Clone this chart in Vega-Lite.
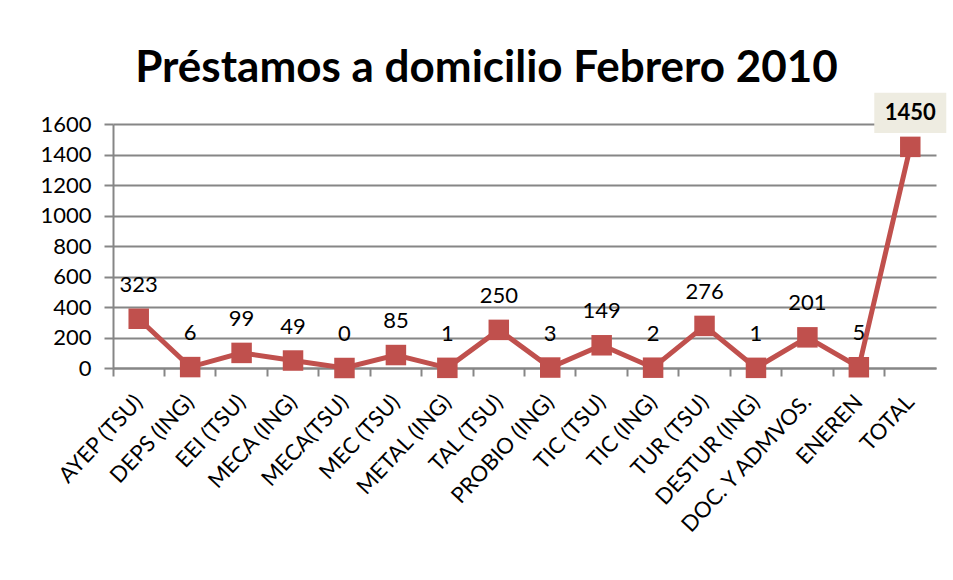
{
  "$schema": "https://vega.github.io/schema/vega-lite/v6.json",
  "autosize": {"type": "none"},
  "width": 823,
  "height": 244,
  "padding": {"left": 113, "top": 124, "right": 17, "bottom": 212},
  "background": "white",
  "title": {
    "text": "Préstamos a domicilio Febrero 2010",
    "font": "Lato",
    "fontSize": 44,
    "fontWeight": "bold",
    "color": "#000000",
    "anchor": "middle",
    "dx": -38,
    "offset": 2
  },
  "data": {
    "values": [
      {"carrera": "AYEP (TSU)", "prestamos": 323},
      {"carrera": "DEPS (ING)", "prestamos": 6},
      {"carrera": "EEI (TSU)", "prestamos": 99},
      {"carrera": "MECA (ING)", "prestamos": 49},
      {"carrera": "MECA(TSU)", "prestamos": 0},
      {"carrera": "MEC (TSU)", "prestamos": 85},
      {"carrera": "METAL (ING)", "prestamos": 1},
      {"carrera": "TAL (TSU)", "prestamos": 250},
      {"carrera": "PROBIO (ING)", "prestamos": 3},
      {"carrera": "TIC (TSU)", "prestamos": 149},
      {"carrera": "TIC (ING)", "prestamos": 2},
      {"carrera": "TUR (TSU)", "prestamos": 276},
      {"carrera": "DESTUR (ING)", "prestamos": 1},
      {"carrera": "DOC. Y ADMVOS.", "prestamos": 201},
      {"carrera": "ENEREN", "prestamos": 5},
      {"carrera": "TOTAL", "prestamos": 1450}
    ]
  },
  "encoding": {
    "x": {
      "field": "carrera",
      "type": "nominal",
      "sort": null,
      "scale": {"type": "band", "paddingInner": 0, "paddingOuter": 0},
      "axis": {
        "title": null,
        "bandPosition": 0,
        "labelAngle": -47,
        "labelAlign": "right",
        "labelBaseline": "middle",
        "labelFont": "Lato",
        "labelFontSize": 22,
        "labelColor": "#000000",
        "labelPadding": 22,
        "labelOffset": 0,
        "labelOverlap": false,
        "labelLimit": 400,
        "tickSize": 8,
        "tickColor": "#868686",
        "tickWidth": 2,
        "domainColor": "#868686",
        "domainWidth": 2,
        "grid": false
      }
    },
    "y": {
      "field": "prestamos",
      "type": "quantitative",
      "scale": {"domain": [0, 1600], "nice": false},
      "axis": {
        "title": null,
        "values": [0, 200, 400, 600, 800, 1000, 1200, 1400, 1600],
        "format": "d",
        "labelFont": "Lato",
        "labelFontSize": 22,
        "labelColor": "#000000",
        "labelPadding": 13,
        "tickSize": 9,
        "tickColor": "#868686",
        "tickWidth": 2,
        "domainColor": "#868686",
        "domainWidth": 2,
        "grid": true,
        "gridColor": "#868686",
        "gridWidth": 2
      }
    }
  },
  "layer": [
    {
      "mark": {"type": "line", "color": "#C0504D", "strokeWidth": 5}
    },
    {
      "mark": {"type": "point", "shape": "square", "filled": true, "color": "#C0504D", "opacity": 1, "size": 420}
    },
    {
      "transform": [{"filter": "datum.carrera != 'TOTAL'"}],
      "mark": {"type": "text", "font": "Lato", "fontSize": 22, "color": "#000000", "baseline": "bottom", "dy": -22},
      "encoding": {"text": {"field": "prestamos", "type": "quantitative"}}
    },
    {
      "transform": [{"filter": "datum.carrera == 'TOTAL'"}],
      "mark": {
        "type": "point",
        "shape": "M-1,-0.556L1,-0.556L1,0.556L-1,0.556Z",
        "filled": true,
        "color": "#EEECE1",
        "opacity": 1,
        "size": 5184,
        "yOffset": -34
      }
    },
    {
      "transform": [{"filter": "datum.carrera == 'TOTAL'"}],
      "mark": {"type": "text", "font": "Lato", "fontSize": 22, "fontWeight": "bold", "color": "#000000", "baseline": "middle", "yOffset": -34},
      "encoding": {"text": {"field": "prestamos", "type": "quantitative"}}
    }
  ],
  "config": {"view": {"stroke": null}}
}
